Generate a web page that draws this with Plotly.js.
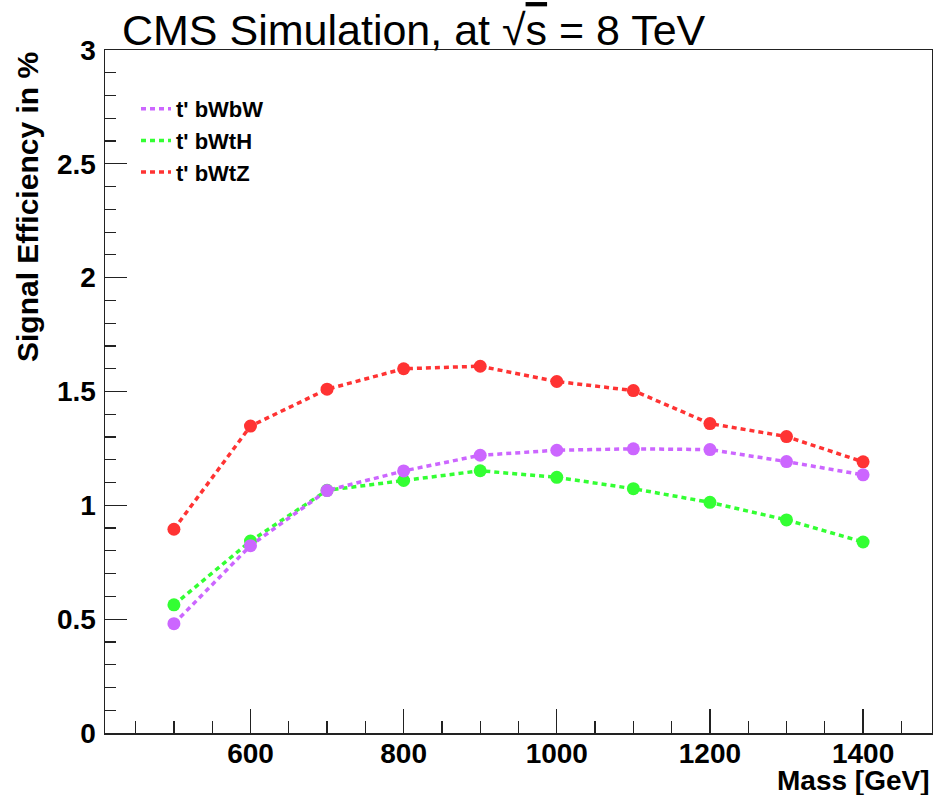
<!DOCTYPE html>
<html>
<head>
<meta charset="utf-8">
<script src="https://cdn.plot.ly/plotly-3.0.1.min.js"></script>
<style>
  html, body { margin: 0; padding: 0; background: #fff; }
  #chart { width: 933px; height: 795px; }
</style>
</head>
<body>
<div id="chart"></div>
<script>
// ---- data ----
const masses = [500, 600, 700, 800, 900, 1000, 1100, 1200, 1300, 1400];
const effBWbW = [0.480, 0.823, 1.065, 1.151, 1.220, 1.242, 1.248, 1.245, 1.192, 1.134];
const effBWtH = [0.563, 0.843, 1.066, 1.109, 1.152, 1.123, 1.073, 1.013, 0.936, 0.839];
const effBWtZ = [0.895, 1.348, 1.510, 1.600, 1.611, 1.544, 1.504, 1.359, 1.302, 1.191];
const seriesNames = ["t' bWbW", "t' bWtH", "t' bWtZ"];
const seriesColors = ["#CC66FF", "#33FF33", "#FF3333"];

const boldFont = {family: "Liberation Sans, Arial, sans-serif", weight: 700, color: "#000"};
const dash = "5px,4px";

function dataTrace(y, i) {
  return {
    x: masses, y: y, type: "scatter", mode: "lines+markers",
    name: seriesNames[i], showlegend: false,
    line: {color: seriesColors[i], width: 3.5, dash: dash},
    marker: {color: seriesColors[i], size: 13, symbol: "circle"}
  };
}
function legendTrace(i) {
  return {
    x: [null], y: [null], type: "scatter", mode: "lines",
    name: seriesNames[i], showlegend: true, hoverinfo: "skip",
    line: {color: seriesColors[i], width: 3.5, dash: dash}
  };
}

const traces = [
  dataTrace(effBWtH, 1),
  dataTrace(effBWtZ, 2),
  dataTrace(effBWbW, 0),
  legendTrace(0), legendTrace(1), legendTrace(2)
];

const axisCommon = {
  showline: true, mirror: true, linecolor: "#222", linewidth: 1.5,
  showgrid: false, zeroline: false,
  ticks: "inside", tickcolor: "#222", tickwidth: 1.2,
  tickfont: Object.assign({size: 28}, boldFont)
};

const layout = {
  width: 933, height: 795,
  paper_bgcolor: "#fff", plot_bgcolor: "#fff",
  margin: {l: 105, r: 1, t: 50, b: 62},
  title: {
    text: "CMS Simulation, at √<span style=\"text-decoration:overline\">s</span> = 8 TeV",
    font: {family: "Liberation Sans, Arial, sans-serif", size: 43, color: "#000"},
    x: 122 / 933, xref: "container", xanchor: "left",
    y: 1 - 30 / 795, yref: "container", yanchor: "middle"
  },
  xaxis: Object.assign({}, axisCommon, {
    range: [410, 1490], tick0: 0, dtick: 200, ticklen: 24,
    minor: {dtick: 50, ticklen: 12, ticks: "inside", tickcolor: "#222", tickwidth: 1.2, showgrid: false},
    ticklabelstandoff: -5
  }),
  yaxis: Object.assign({}, axisCommon, {
    range: [0, 3], tick0: 0, dtick: 0.5, ticklen: 22,
    minor: {dtick: 0.1, ticklen: 11, ticks: "inside", tickcolor: "#222", tickwidth: 1.2, showgrid: false},
    ticklabelstandoff: 2
  }),
  legend: {
    x: (136 - 105) / 827, xanchor: "left",
    y: 1 - (88 - 50) / 683, yanchor: "top",
    bgcolor: "rgba(0,0,0,0)", borderwidth: 0,
    itemwidth: 30,
    font: Object.assign({size: 22}, boldFont)
  },
  annotations: [
    {
      text: "Mass [GeV]", xref: "paper", yref: "paper",
      x: 1, xanchor: "right", y: (733 - 780) / 683, yanchor: "middle",
      showarrow: false, font: Object.assign({size: 28}, boldFont)
    },
    {
      text: "Signal Efficiency in %", xref: "paper", yref: "paper",
      x: (27 - 105) / 827, xanchor: "center", y: 1, yanchor: "top",
      textangle: -90, showarrow: false, font: Object.assign({size: 30}, boldFont)
    }
  ],
  showlegend: true
};

Plotly.newPlot("chart", traces, layout, {displayModeBar: false, staticPlot: true});
</script>
</body>
</html>
